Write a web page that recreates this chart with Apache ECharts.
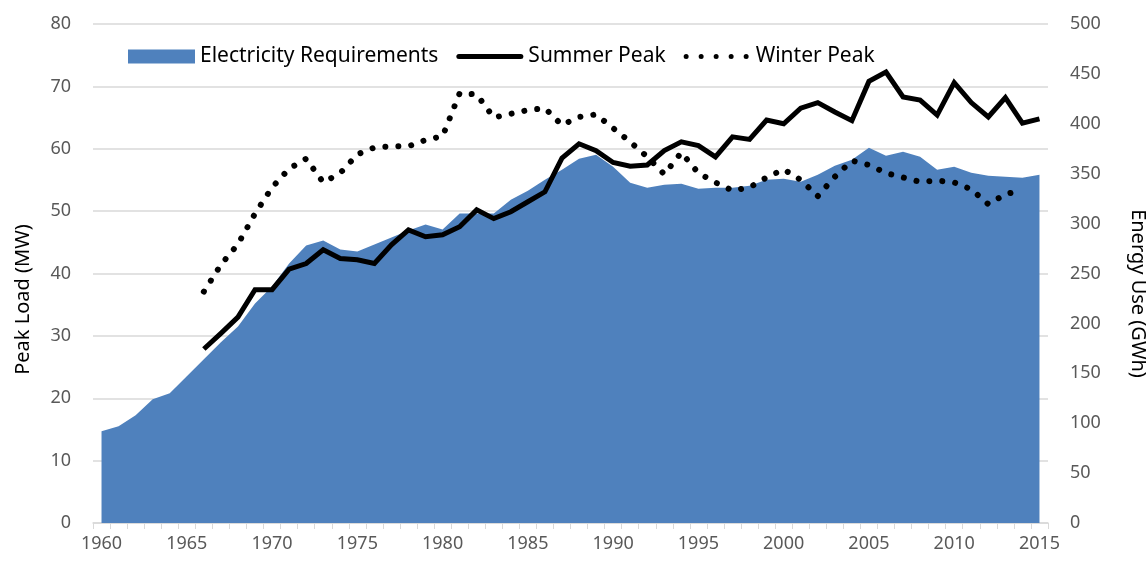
<!DOCTYPE html>
<html>
<head>
<meta charset="utf-8">
<script src="https://cdn.jsdelivr.net/npm/echarts@6/dist/echarts.min.js"></script>
<style>
  html, body { margin: 0; padding: 0; background: #fff; }
  #chart { width: 1146px; height: 564px; }
</style>
</head>
<body>
<div id="chart"></div>
<script>
// years 1960..2015
const years = []
for (let y = 1960; y <= 2015; y++) years.push(String(y))

// Electricity Requirements (GWh, right axis)
const requirements = [
  92, 97, 108, 124, 130, 147, 164, 181, 197, 220,
  237, 260, 278, 283, 274, 272, 279, 286, 293, 299,
  294, 310, 310, 310, 324, 333, 344, 354, 365, 369,
  357, 341, 336, 339, 340, 335, 336, 336, 338, 344,
  345, 342, 349, 358, 364, 376, 368, 372, 367, 354,
  357, 351, 348, 347, 346, 349
]

// Summer Peak (MW, left axis)
const summerPeak = [
  null, null, null, null, null, null, 27.9, 30.4, 33.0, 37.4,
  37.4, 40.7, 41.6, 43.8, 42.4, 42.2, 41.6, 44.6, 47.0, 45.9,
  46.2, 47.5, 50.2, 48.8, 49.9, 51.5, 53.1, 58.5, 60.8, 59.7,
  57.8, 57.2, 57.4, 59.7, 61.1, 60.5, 58.7, 61.9, 61.5, 64.6,
  64.0, 66.5, 67.4, 65.9, 64.5, 70.8, 72.3, 68.3, 67.8, 65.4,
  70.6, 67.4, 65.1, 68.2, 64.1, 64.8
]

// Winter Peak (MW, left axis)
const winterPeak = [
  null, null, null, null, null, null, 37.1, 41.4, 44.7, 49.6,
  53.8, 56.8, 58.4, 54.6, 56.1, 59.1, 60.2, 60.4, 60.4, 61.4,
  62.0, 68.9, 68.7, 65.0, 65.6, 66.2, 66.5, 63.8, 65.1, 65.5,
  63.3, 61.1, 58.7, 55.9, 59.4, 56.1, 54.6, 53.3, 53.8, 55.4,
  56.7, 55.0, 52.4, 55.5, 58.1, 57.4, 56.1, 55.4, 54.7, 54.9,
  54.6, 53.5, 51.1, 52.7, 53.4, null
]

const FONT = 'Noto Sans'
const labelColor = '#595959'

// legend icons, drawn in a 67x14 box (the leading moves fix the box)
const summerIcon = 'path://M0,0 M67,14 M2.5,4.5 L64.5,4.5 A2.5,2.5 0 0 1 64.5,9.5 L2.5,9.5 A2.5,2.5 0 0 1 2.5,4.5 Z'
let winterIcon = 'path://M0,0 M67,14'
for (let i = 0; i < 5; i++) {
  const cx = 2.5 + i * 15
  winterIcon += ` M${cx - 2.5},7 A2.5,2.5 0 1 0 ${cx + 2.5},7 A2.5,2.5 0 1 0 ${cx - 2.5},7 Z`
}

const chart = echarts.init(document.getElementById('chart'))

chart.setOption({
  animation: false,
  textStyle: { fontFamily: FONT },
  legend: {
    top: 41,
    left: 123,
    itemGap: 18,
    itemWidth: 67,
    itemHeight: 14,
    textStyle: { fontFamily: FONT, fontSize: 21, color: '#000' },
    data: [
      { name: 'Electricity Requirements', icon: 'rect' },
      { name: 'Summer Peak', icon: summerIcon },
      { name: 'Winter Peak', icon: winterIcon },
    ],
  },
  grid: {
    left: 93,
    right: 98,
    top: 24,
    bottom: 41,
    containLabel: false,
    outerBoundsMode: 'none',
  },
  xAxis: {
    type: 'category',
    data: years,
    boundaryGap: true,
    axisLine: { lineStyle: { color: '#d9d9d9', width: 1.5 } },
    axisTick: { show: true, interval: 0, length: 6, lineStyle: { color: '#d9d9d9' } },
    axisLabel: {
      interval: 4,
      color: labelColor,
      fontSize: 18,
      margin: 12,
    },
    splitLine: { show: false },
  },
  yAxis: [
    {
      type: 'value',
      min: 0,
      max: 80,
      interval: 10,
      name: 'Peak Load (MW)',
      nameLocation: 'middle',
      nameGap: 60,
      nameTextStyle: { fontSize: 20, color: '#000', padding: [0, 52, 0, 0] },
      axisLine: { show: false },
      axisTick: { show: false },
      axisLabel: { color: labelColor, fontSize: 18, margin: 22 },
      splitLine: { lineStyle: { color: '#d9d9d9', width: 1.5 } },
    },
    {
      type: 'value',
      min: 0,
      max: 500,
      interval: 50,
      name: 'Energy Use (GWh)',
      nameLocation: 'middle',
      nameGap: 80,
      nameRotate: -90,
      nameTextStyle: { fontSize: 20, color: '#000', padding: [0, 0, 0, 40] },
      axisLine: { show: false },
      axisTick: { show: false },
      axisLabel: { color: labelColor, fontSize: 18, margin: 22 },
      splitLine: { show: false },
    },
  ],
  series: [
    {
      name: 'Electricity Requirements',
      type: 'line',
      yAxisIndex: 1,
      data: requirements,
      symbol: 'none',
      lineStyle: { width: 0 },
      itemStyle: { color: '#4f81bd' },
      areaStyle: { color: '#4f81bd', opacity: 1 },
      z: 1,
    },
    {
      name: 'Summer Peak',
      type: 'line',
      yAxisIndex: 0,
      data: summerPeak,
      symbol: 'none',
      itemStyle: { color: '#000' },
      lineStyle: { color: '#000', width: 5, join: 'miter' },
      z: 3,
    },
    {
      name: 'Winter Peak',
      type: 'line',
      yAxisIndex: 0,
      data: winterPeak,
      symbol: 'none',
      itemStyle: { color: '#000' },
      lineStyle: { color: '#000', width: 6, type: [0.01, 13], cap: 'round' },
      z: 2,
    },
  ],
})
</script>
</body>
</html>
